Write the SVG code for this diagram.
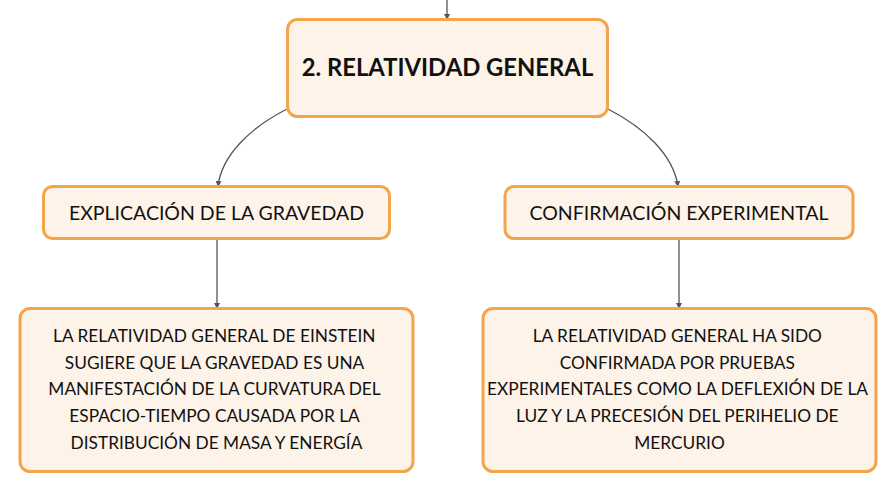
<svg xmlns="http://www.w3.org/2000/svg" width="896" height="492" viewBox="0 0 896 492">
<style>
.box{fill:#FDF3E8;stroke:#F2A54A;stroke-width:3}
.t{font-family:Lato,"Noto Sans",sans-serif;fill:#111;text-anchor:middle}
.title{font-size:23.8px;font-weight:bold}
.sub{font-size:19.5px}
.body{font-size:17.3px}
.conn{fill:none;stroke:#555;stroke-width:1.3}
</style>
<defs>
<marker id="ah" viewBox="0 0 6 6" refX="5" refY="3" markerWidth="6" markerHeight="6" orient="auto" markerUnits="userSpaceOnUse">
<path d="M0,0 L6,3 L0,6 z" fill="#555"/>
</marker>
</defs>
<rect width="896" height="492" fill="#fff"/>
<g id="connectors">
<path class="conn" d="M447,0 L447,19" marker-end="url(#ah)"/>
<path class="conn" d="M287,109 C250,128 222,155 218,186" marker-end="url(#ah)"/>
<path class="conn" d="M608,109 C645,128 673,155 678,186" marker-end="url(#ah)"/>
<path class="conn" d="M217,239 L217,308" marker-end="url(#ah)"/>
<path class="conn" d="M679,239 L679,308" marker-end="url(#ah)"/>
</g>
<g id="root">
<rect class="box" x="287.5" y="19.5" width="320" height="97" rx="10"/>
<text class="t title" x="447.5" y="76">2. RELATIVIDAD GENERAL</text>
</g>
<g id="gravedad">
<rect class="box" x="43.5" y="186.5" width="346" height="52" rx="9"/>
<text class="t sub" x="216.5" y="220">EXPLICACIÓN DE LA GRAVEDAD</text>
</g>
<g id="confirmacion">
<rect class="box" x="505" y="186.5" width="348" height="52" rx="9"/>
<text class="t sub" x="679" y="220">CONFIRMACIÓN EXPERIMENTAL</text>
</g>
<g id="gravedad-desc">
<rect class="box" x="20" y="308.5" width="393" height="163" rx="10"/>
<text class="t body" x="216.5" y="342">
<tspan x="216.5" y="342">LA RELATIVIDAD GENERAL DE EINSTEIN</tspan>
<tspan x="216.5" y="368.7">SUGIERE QUE LA GRAVEDAD ES UNA</tspan>
<tspan x="216.5" y="395.4">MANIFESTACIÓN DE LA CURVATURA DEL</tspan>
<tspan x="216.5" y="422.1">ESPACIO-TIEMPO CAUSADA POR LA</tspan>
<tspan x="216.5" y="448.8">DISTRIBUCIÓN DE MASA Y ENERGÍA</tspan>
</text>
</g>
<g id="confirmacion-desc">
<rect class="box" x="483" y="308.5" width="393" height="163" rx="10"/>
<text class="t body" x="679.5" y="342">
<tspan x="679.5" y="342">LA RELATIVIDAD GENERAL HA SIDO</tspan>
<tspan x="679.5" y="368.7">CONFIRMADA POR PRUEBAS</tspan>
<tspan x="679.5" y="395.4">EXPERIMENTALES COMO LA DEFLEXIÓN DE LA</tspan>
<tspan x="679.5" y="422.1">LUZ Y LA PRECESIÓN DEL PERIHELIO DE</tspan>
<tspan x="679.5" y="448.8">MERCURIO</tspan>
</text>
</g>
</svg>
